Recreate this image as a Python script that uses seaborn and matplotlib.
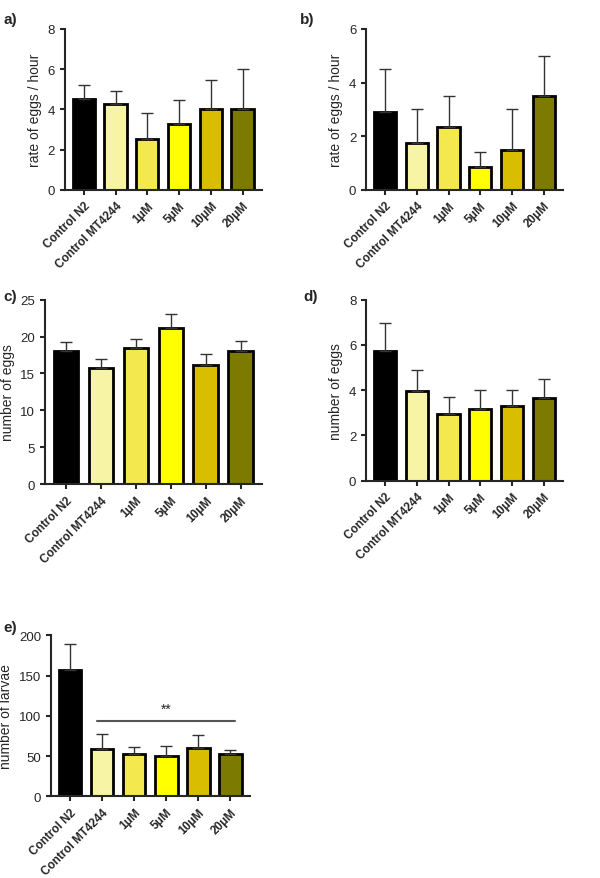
import matplotlib
matplotlib.use("Agg")
import matplotlib.pyplot as plt
import seaborn as sns
import pandas as pd

groups = ["Control N2", "Control MT4244", "1μM", "5μM", "10μM", "20μM"]
colors = ["#000000", "#f8f4a6", "#f4e84f", "#ffff00", "#d9bd00", "#7c7a00"]

rate_a = [4.5, 4.25, 2.5, 3.25, 4.0, 4.0]
err_a = [0.7, 0.65, 1.3, 1.2, 1.45, 2.0]
rate_b = [2.9, 1.75, 2.35, 0.85, 1.5, 3.5]
err_b = [1.6, 1.25, 1.15, 0.55, 1.5, 1.5]
eggs_c = [18.0, 15.8, 18.5, 21.2, 16.1, 18.0]
err_c = [1.2, 1.2, 1.2, 1.8, 1.5, 1.4]
eggs_d = [5.75, 3.95, 2.95, 3.15, 3.3, 3.65]
err_d = [1.2, 0.95, 0.75, 0.85, 0.7, 0.85]
larvae_e = [157, 59, 53, 50, 60, 52]
err_e = [32, 19, 8, 12, 16, 5]

sns.set_style("ticks")
plt.rcParams['font.family'] = ['Liberation Sans', 'DejaVu Sans']

fig = plt.figure(figsize=(6, 8.79), dpi=100)

panels = [
    ("a)", [0.108, 0.783, 0.328, 0.183], rate_a, err_a, "rate of eggs / hour", 8, 2, (0.005, 0.985)),
    ("b)", [0.61, 0.783, 0.328, 0.183], rate_b, err_b, "rate of eggs / hour", 6, 2, (0.5, 0.985)),
    ("c)", [0.075, 0.448, 0.361, 0.21], eggs_c, err_c, "number of eggs", 25, 5, (0.005, 0.67)),
    ("d)", [0.61, 0.452, 0.328, 0.206], eggs_d, err_d, "number of eggs", 8, 2, (0.505, 0.67)),
    ("e)", [0.085, 0.093, 0.331, 0.183], larvae_e, err_e, "number of larvae", 200, 50, (0.005, 0.293)),
]

for label, pos, vals, errs, ylabel, ymax, step, lpos in panels:
    ax = fig.add_axes(pos)
    df = pd.DataFrame({"group": groups, "value": vals})
    sns.barplot(data=df, x="group", y="value", hue="group", palette=colors, saturation=1,
                edgecolor="black", linewidth=2, width=0.7, legend=False, ax=ax)
    ax.errorbar(range(len(groups)), vals, yerr=[[0] * len(errs), errs], fmt="none",
                ecolor="#333333", elinewidth=1, capsize=4, capthick=1, zorder=1)
    ax.set_ylim(0, ymax)
    ax.set_yticks(range(0, ymax + 1, step))
    ax.set_xlim(-0.6, 5.6)
    ax.set_xlabel("")
    ax.set_ylabel(ylabel, fontsize=10)
    ax.tick_params(axis="y", labelsize=9.5, width=1.5)
    ax.tick_params(axis="x", width=1.5)
    ax.set_xticks(range(len(groups)))
    ax.set_xticklabels(groups, rotation=45, ha="right", rotation_mode="anchor",
                       fontsize=8.5, fontweight="bold")
    for s in ["left", "bottom"]:
        ax.spines[s].set_linewidth(1.5)
    sns.despine(ax=ax)
    fig.text(lpos[0], lpos[1], label, fontsize=11, fontweight="bold", va="top")
    if label == "e)":
        ax.plot([0.85, 5.15], [94, 94], color="#555555", lw=1.5)
        ax.text(3, 100, "**", ha="center", va="bottom", fontsize=10)

fig.savefig("out.png", dpi=100)
